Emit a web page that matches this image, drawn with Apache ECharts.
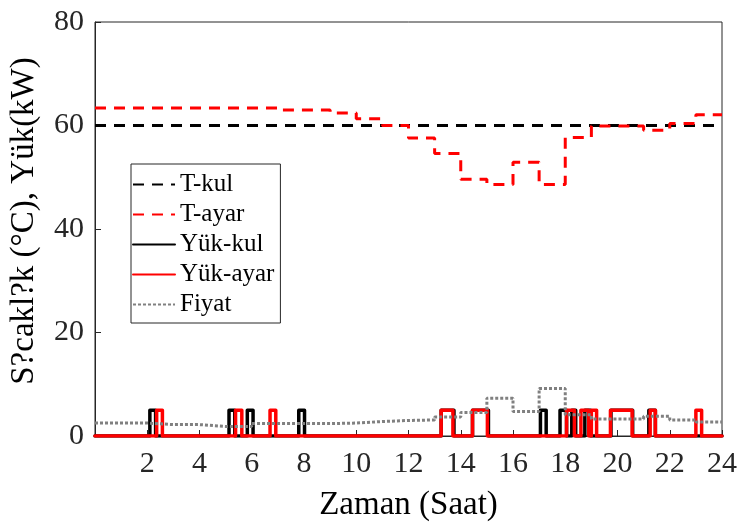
<!DOCTYPE html>
<html>
<head>
<meta charset="utf-8">
<script src="https://cdn.jsdelivr.net/npm/echarts@6/dist/echarts.min.js"></script>
<style>html,body{margin:0;padding:0;background:#fff}#c{width:741px;height:527px}</style>
</head>
<body>
<div id="c"></div>
<script>
// ---- Data ----
var hours = [0,1,2,3,4,5,6,7,8,9,10,11,12,13,14,15,16,17,18,19,20,21,22,23];
var tKul = [60,60,60,60,60,60,60,60,60,60,60,60,60,60,60,60,60,60,60,60,60,60,60,60];
var tAyar = [63.4,63.4,63.4,63.4,63.4,63.4,63.4,63.0,63.0,62.4,61.3,60.0,57.6,54.6,49.6,48.6,52.9,48.6,57.7,59.9,59.9,59.1,60.4,62.1];
var fiyat = [2.5,2.5,2.2,2.2,1.85,1.85,2.4,2.4,2.4,2.5,2.8,3.0,3.1,3.65,4.55,7.3,4.75,9.2,4.1,3.3,3.3,3.8,3.1,2.7];
var yukLevel = 5;
var yukKulStart = [2.10,5.13,5.83,7.80,13.25,14.45,17.05,17.80,18.25,18.75,19.75,21.20];
var yukKulEnd   = [2.32,5.35,6.05,8.02,13.74,15.06,17.27,18.05,18.40,18.97,20.58,21.45];
var yukAyarStart = [2.36,5.38,6.70,13.25,14.45,18.05,18.60,19.00,19.73,21.25,23.00];
var yukAyarEnd   = [2.58,5.62,6.92,13.70,15.02,18.35,18.90,19.20,20.56,21.45,23.22];
var xTicks = [2,4,6,8,10,12,14,16,18,20,22,24];
var yTicks = [0,20,40,60,80];

function stepData(vals){
  var d = hours.map(function(h,i){return [h, vals[i]];});
  d.push([24, vals[vals.length-1]]);
  return d;
}
function pulseData(st, en){
  var d = [[0,0]];
  for (var i=0;i<st.length;i++){
    d.push([st[i],0],[st[i],yukLevel],[en[i],yukLevel],[en[i],0]);
  }
  d.push([24,0]);
  return d;
}

var FONT = "'Liberation Serif','Times New Roman',serif";
var chart = echarts.init(document.getElementById('c'));
chart.setOption({
  backgroundColor:'#fff',
  animation:false,
  grid:{left:92,right:19,top:22,bottom:89,show:true,borderColor:'#262626',borderWidth:1,backgroundColor:'transparent'},
  legend:{
    orient:'vertical',left:131,top:164,
    backgroundColor:'#fff',borderColor:'#262626',borderWidth:1,borderRadius:0,
    padding:[8,6,6,1],itemGap:5,itemWidth:42,itemHeight:14,
    itemStyle:{opacity:0},
    textStyle:{fontFamily:FONT,fontSize:25,color:'#000'},
    data:['T-kul','T-ayar','Yük-kul','Yük-ayar','Fiyat']
  },
  xAxis:{
    type:'value',min:0,max:24,interval:2,
    name:'Zaman (Saat)',nameLocation:'middle',nameGap:53,
    nameTextStyle:{fontFamily:FONT,fontSize:33,color:'#000'},
    axisLine:{show:true,lineStyle:{color:'#262626',width:1}},
    axisTick:{show:true,inside:true,length:6,lineStyle:{color:'#262626'}},
    axisLabel:{fontFamily:FONT,fontSize:30,color:'#262626',margin:13,
      formatter:function(v){return xTicks.indexOf(v)>=0?String(v):'';}},
    splitLine:{show:false}
  },
  yAxis:{
    type:'value',min:0,max:80,interval:20,
    name:'S?cakl?k (°C), Yük(kW)',nameLocation:'middle',nameGap:54,
    nameTextStyle:{fontFamily:FONT,fontSize:33,color:'#000',padding:[0,0,0,16]},
    axisLine:{show:true,lineStyle:{color:'#262626',width:1}},
    axisTick:{show:true,inside:true,length:6,lineStyle:{color:'#262626'}},
    axisLabel:{fontFamily:FONT,fontSize:30,color:'#262626',margin:11,
      formatter:function(v){return yTicks.indexOf(v)>=0?String(v):'';}},
    splitLine:{show:false}
  },
  series:[
    {name:'T-kul',type:'line',step:'end',symbol:'none',data:stepData(tKul),
     lineStyle:{color:'#000',width:3,type:[11,8]},itemStyle:{color:'#000'}},
    {name:'T-ayar',type:'line',step:'end',symbol:'none',data:stepData(tAyar),
     lineStyle:{color:'#ff0000',width:3,type:[11,8]},itemStyle:{color:'#ff0000'}},
    {name:'Yük-kul',type:'line',symbol:'none',data:pulseData(yukKulStart,yukKulEnd),
     lineStyle:{color:'#000',width:3.5,join:'round',cap:'round'},itemStyle:{color:'#000'}},
    {name:'Yük-ayar',type:'line',symbol:'none',data:pulseData(yukAyarStart,yukAyarEnd),
     lineStyle:{color:'#ff0000',width:3.5,join:'round',cap:'round'},itemStyle:{color:'#ff0000'}},
    {name:'Fiyat',type:'line',step:'end',symbol:'none',data:stepData(fiyat),
     lineStyle:{color:'#808080',width:3,type:[3,2]},itemStyle:{color:'#808080'}}
  ]
});
</script>
</body>
</html>
